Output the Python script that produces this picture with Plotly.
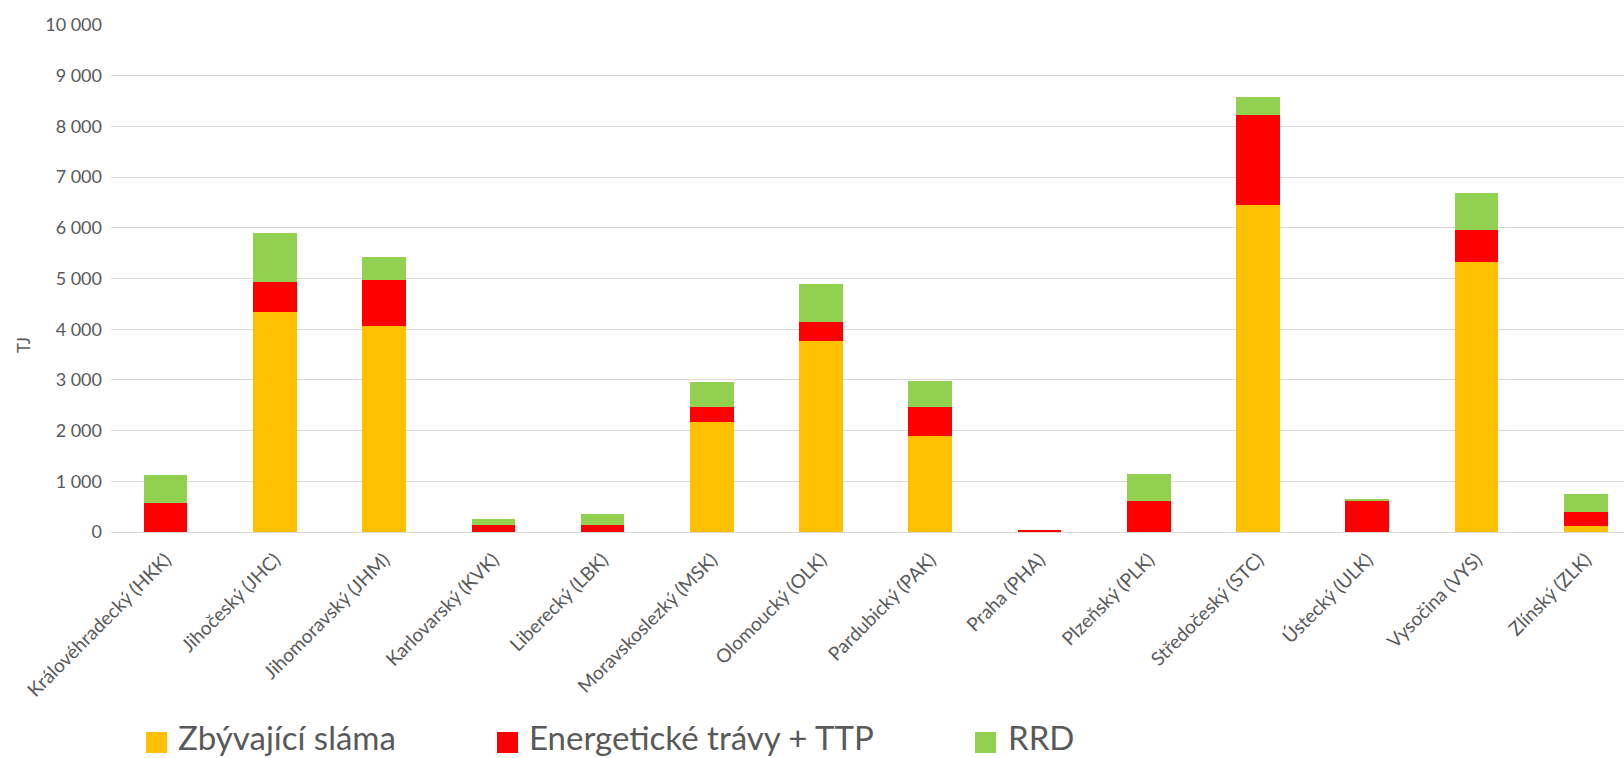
import plotly.graph_objects as go

categories = ["Královéhradecký (HKK)", "Jihočeský (JHC)", "Jihomoravský (JHM)", "Karlovarský (KVK)",
              "Liberecký (LBK)", "Moravskoslezký (MSK)", "Olomoucký (OLK)", "Pardubický (PAK)",
              "Praha (PHA)", "Plzeňský (PLK)", "Středočeský (STC)", "Ústecký (ULK)",
              "Vysočina (VYS)", "Zlínský (ZLK)"]
slama = [0, 4340, 4060, 0, 0, 2160, 3760, 1890, 5, 0, 6440, 0, 5330, 110]
travy = [580, 590, 910, 130, 130, 310, 375, 570, 40, 620, 1790, 605, 630, 290]
rrd = [540, 970, 450, 130, 225, 490, 755, 525, 0, 530, 355, 40, 720, 355]
series_names = ["Zbývající sláma", "Energetické trávy + TTP", "RRD"]
colors = ["#FFC000", "#FF0000", "#92D050"]
y_ticks = list(range(0, 10001, 1000))

W, H = 1624, 758
L, R, T, B = 111, 0, 25, 226
PW, PH = W - L - R, H - T - B
TXT = "#595959"
FONT = "Lato, 'Open Sans', sans-serif"

def px(x):
    return (x - L) / PW

def py(y):
    return (H - B - y) / PH

fig = go.Figure()
for name, vals, col in zip(series_names, [slama, travy, rrd], colors):
    fig.add_trace(go.Bar(x=categories, y=vals, name=name, marker=dict(color=col, line=dict(width=0)),
                         showlegend=False))

shapes = []
annotations = []
legend_pos = [(146, 176), (497, 527), (975, 1006)]
for (sx, tx), name, col in zip(legend_pos, series_names, colors):
    shapes.append(dict(type="rect", xref="paper", yref="paper", x0=px(sx), x1=px(sx + 21),
                       y0=py(753), y1=py(732), fillcolor=col, line=dict(width=0)))
    annotations.append(dict(xref="paper", yref="paper", x=px(tx), y=py(737), xanchor="left",
                            yanchor="middle", text=name, showarrow=False,
                            font=dict(family=FONT, size=33, color=TXT)))
annotations.append(dict(xref="paper", yref="paper", x=px(23), y=py(345), text="TJ", textangle=-90,
                        showarrow=False, xanchor="center", yanchor="middle",
                        font=dict(family=FONT, size=17, color=TXT)))

fig.update_layout(
    barmode="stack", bargap=0.6,
    width=W, height=H, autosize=False,
    margin=dict(l=L, r=R, t=T, b=B, pad=0),
    paper_bgcolor="white", plot_bgcolor="white",
    separators=", ",
    font=dict(family=FONT, color=TXT),
    shapes=shapes, annotations=annotations,
)
fig.update_xaxes(range=[-0.5, 13.35], tickangle=-45, showgrid=False, showline=False,
                 tickfont=dict(family=FONT, size=19, color=TXT), ticks="", ticklabelstandoff=12)
fig.update_yaxes(range=[0, 10000], tickvals=y_ticks, tickformat=",", showgrid=True,
                 gridcolor="#D9D9D9", gridwidth=1, zeroline=True, zerolinecolor="#D9D9D9",
                 zerolinewidth=1, showline=False, ticks="",
                 tickfont=dict(family=FONT, size=18, color=TXT), ticklabelstandoff=8)

fig.write_html("out.html", config={"displayModeBar": False},
               post_script="document.body.style.margin='0';document.body.style.overflow='hidden';")
